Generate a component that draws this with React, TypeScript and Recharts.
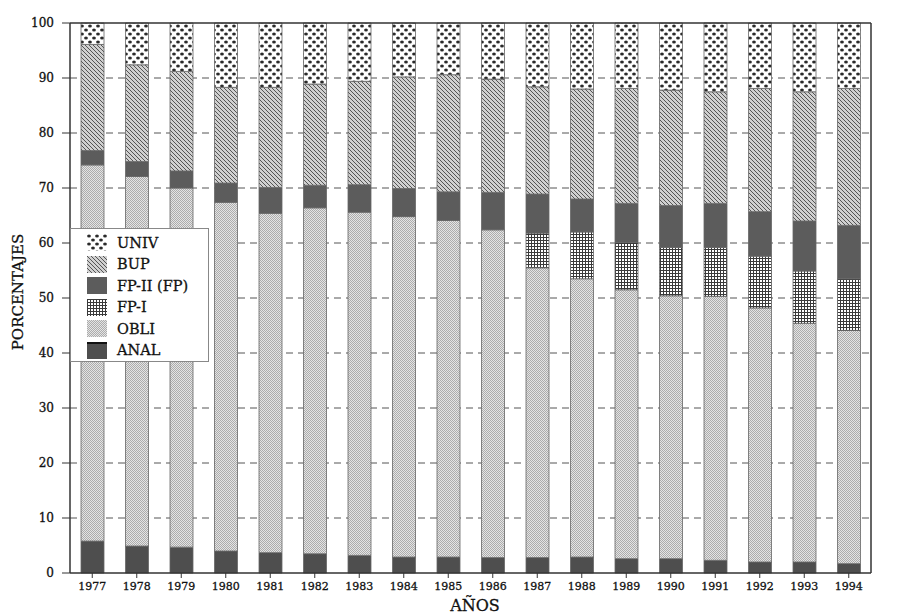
import React from 'react';
import { BarChart, Bar, XAxis, YAxis, CartesianGrid, ReferenceLine, Legend } from 'recharts';

const years = ['1977', '1978', '1979', '1980', '1981', '1982', '1983', '1984', '1985', '1986', '1987', '1988', '1989', '1990', '1991', '1992', '1993', '1994'];
const anal = [5.8, 4.9, 4.7, 4.0, 3.7, 3.5, 3.2, 2.9, 2.9, 2.8, 2.8, 2.9, 2.6, 2.6, 2.3, 2.0, 2.0, 1.7];
const obli = [68.4, 67.2, 65.3, 63.4, 61.7, 62.9, 62.4, 61.9, 61.2, 59.6, 52.7, 50.6, 48.9, 47.8, 48.0, 46.2, 43.4, 42.4];
const fp1 = [0, 0, 0, 0, 0, 0, 0, 0, 0, 0, 6.3, 8.5, 8.6, 8.8, 8.9, 9.4, 9.5, 9.4];
const fp2 = [2.6, 2.7, 3.1, 3.5, 4.7, 4.1, 5.0, 5.1, 5.2, 6.8, 7.1, 6.0, 7.1, 7.6, 8.0, 8.1, 9.1, 9.7];
const bup = [19.3, 17.6, 18.1, 17.4, 18.2, 18.4, 18.8, 20.3, 21.3, 20.6, 19.5, 20.0, 20.9, 21.0, 20.3, 22.4, 23.5, 24.9];
const univ = [3.9, 7.6, 8.8, 11.7, 11.7, 11.1, 10.6, 9.8, 9.4, 10.2, 11.6, 12.0, 11.9, 12.2, 12.5, 11.9, 12.5, 11.9];

const yTicks = [0, 10, 20, 30, 40, 50, 60, 70, 80, 90, 100];
const gridTicks = [10, 20, 30, 40, 50, 60, 70, 80, 90];

const seriesKeys = ['ANAL', 'OBLI', 'FP-I', 'FP-II (FP)', 'BUP', 'UNIV'];
const seriesFills: Record<string, string> = {
  'ANAL': '#4e4e4e',
  'OBLI': 'url(#pObli)',
  'FP-I': 'url(#pFp1)',
  'FP-II (FP)': '#5c5c5c',
  'BUP': 'url(#pBup)',
  'UNIV': 'url(#pUniv)',
};
const legendOrder = ['UNIV', 'BUP', 'FP-II (FP)', 'FP-I', 'OBLI', 'ANAL'];

const data = years.map((y, i) => ({
  year: y,
  'ANAL': anal[i],
  'OBLI': obli[i],
  'FP-I': fp1[i],
  'FP-II (FP)': fp2[i],
  'BUP': bup[i],
  'UNIV': univ[i],
}));

const serif = '"DejaVu Serif", "Liberation Serif", serif';

const Patterns = () => (
  <defs>
    <pattern id="pUniv" width="8" height="8" patternUnits="userSpaceOnUse">
      <rect width="8" height="8" fill="#fff" />
      <ellipse cx="2" cy="2" rx="1.9" ry="1.5" fill="#2a2a2a" />
      <ellipse cx="6" cy="6" rx="1.9" ry="1.5" fill="#2a2a2a" />
    </pattern>
    <pattern id="pBup" width="4" height="4" patternUnits="userSpaceOnUse">
      <rect width="4" height="4" fill="#d0d0d0" />
      <path d="M-1,-1 L5,5 M-1,3 L1,5 M3,-1 L5,1" stroke="#555" strokeWidth="1" />
    </pattern>
    <pattern id="pFp1" width="3" height="3" patternUnits="userSpaceOnUse">
      <rect width="3" height="3" fill="#fff" />
      <path d="M0,0.5 H3 M0.5,0 V3" stroke="#3a3a3a" strokeWidth="1" />
    </pattern>
    <pattern id="pObli" width="2" height="2" patternUnits="userSpaceOnUse">
      <rect width="2" height="2" fill="#e4e4e4" />
      <rect width="1" height="1" fill="#acacac" />
      <rect x="1" y="1" width="1" height="1" fill="#acacac" />
    </pattern>
  </defs>
);

const LegendBox = () => (
  <div
    style={{
      width: 139,
      height: 134,
      border: '1px solid #888',
      background: '#fff',
      boxSizing: 'border-box',
      paddingTop: 3,
    }}
  >
    {legendOrder.map((k) => (
      <div key={k} style={{ display: 'flex', alignItems: 'center', height: 21.5, paddingLeft: 16 }}>
        <svg width={20} height={17} style={{ display: 'block' }}>
          <rect x={0} y={0} width={20} height={17} fill={seriesFills[k]} />
          {k === 'ANAL' ? <rect x={0} y={0} width={20} height={2} fill="#111" /> : null}
        </svg>
        <span
          style={{
            marginLeft: 10,
            fontFamily: serif,
            fontSize: 14.5,
            color: '#111',
            WebkitTextStroke: '0.3px #111',
          }}
        >
          {k}
        </span>
      </div>
    ))}
  </div>
);

const tickStyle = (size: number) => ({ fontFamily: serif, fontSize: size, fill: '#111', stroke: '#111', strokeWidth: 0.3 });

export default function App() {
  return (
    <div style={{ position: 'absolute', left: 0, top: 0, width: 915, height: 615, background: '#fff' }}>
      <BarChart
        width={915}
        height={615}
        data={data}
        margin={{ top: 23, right: 4, bottom: 12, left: 30 }}
        barCategoryGap={0}
      >
        <Patterns />
        <CartesianGrid
          yAxisId="left"
          vertical={false}
          horizontalValues={gridTicks}
          stroke="#555"
          strokeDasharray="7 5"
        />
        <XAxis
          dataKey="year"
          tickLine={{ stroke: '#333' }}
          axisLine={{ stroke: '#333', strokeWidth: 1.5 }}
          tickSize={5}
          tickMargin={4}
          height={30}
          tick={tickStyle(11)}
          interval={0}
          label={{
            content: () => (
              <text x={475} y={611} textAnchor="middle" fontFamily={serif} fontSize={16} fill="#111" stroke="#111" strokeWidth={0.3}>
                AÑOS
              </text>
            ),
          }}
        />
        <YAxis
          yAxisId="left"
          domain={[0, 100]}
          ticks={yTicks}
          width={40}
          tickSize={8}
          tickMargin={8}
          tickLine={{ stroke: '#333' }}
          axisLine={{ stroke: '#333', strokeWidth: 1.5 }}
          tick={tickStyle(12)}
          label={{
            content: () => (
              <text
                x={23}
                y={292}
                transform="rotate(-90 23 292)"
                textAnchor="middle"
                fontFamily={serif}
                fontSize={15}
                fill="#111"
                stroke="#111"
                strokeWidth={0.3}
              >
                PORCENTAJES
              </text>
            ),
          }}
        />
        <YAxis
          yAxisId="right"
          orientation="right"
          domain={[0, 100]}
          ticks={yTicks}
          width={40}
          tickSize={8}
          tickMargin={5}
          tickLine={{ stroke: '#333' }}
          axisLine={{ stroke: '#333', strokeWidth: 1.5 }}
          tick={tickStyle(12)}
        />
        <ReferenceLine yAxisId="left" y={100} stroke="#333" strokeWidth={1.5} />
        {seriesKeys.map((k) => (
          <Bar
            key={k}
            yAxisId="left"
            dataKey={k}
            stackId="s"
            fill={seriesFills[k]}
            stroke="#666"
            strokeWidth={0.8}
            barSize={23}
            isAnimationActive={false}
          />
        ))}
        <Legend
          layout="vertical"
          align="center"
          verticalAlign="middle"
          wrapperStyle={{ left: 70, top: 228, width: 139, height: 134 }}
          content={() => <LegendBox />}
        />
      </BarChart>
    </div>
  );
}
